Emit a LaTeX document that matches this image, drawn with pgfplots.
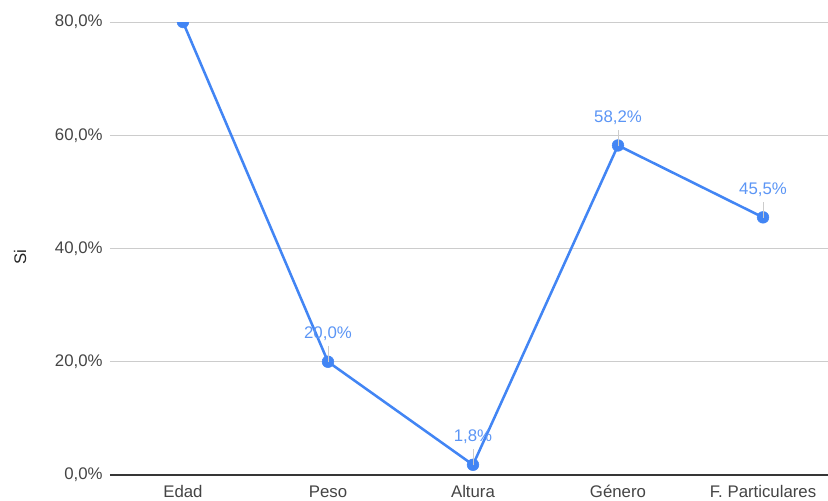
\documentclass[border=0pt]{standalone}
\usepackage{pgfplots}
\pgfplotsset{compat=1.18}
\usepackage{fontspec}
\setmainfont{Liberation Sans}
\definecolor{lineblue}{HTML}{4285F4}
\definecolor{labblue}{HTML}{5B95F5}
\definecolor{tickgray}{HTML}{444444}
\definecolor{gridgray}{HTML}{CCCCCC}
\begin{document}
\begin{tikzpicture}[x=0.75pt,y=0.75pt]
\path[use as bounding box] (-110,-25) rectangle (718,475);
\begin{axis}[
  at={(0,0)}, anchor=south west,
  scale only axis,
  width=538.5pt, height=339.75pt,
  xmin=-0.503, xmax=4.448,
  ymin=0, ymax=80,
  axis line style={draw=none},
  xtick={0,1,2,3,4},
  xticklabels={Edad,Peso,Altura,Género,F. Particulares},
  ytick={0,20,40,60,80},
  yticklabels={{0,0\%},{20,0\%},{40,0\%},{60,0\%},{80,0\%}},
  major tick length=0,
  ymajorgrids,
  grid style={gridgray, line width=0.75pt},
  tick label style={font=\fontsize{12.6pt}{14pt}\selectfont, text=tickgray},
  yticklabel style={xshift=-2pt},
  xticklabel style={yshift=-4.5pt, text height=9pt, text depth=2.5pt},
  clip marker paths=true,
  nodes near coords,
  point meta=explicit symbolic,
  every node near coord/.append style={font=\fontsize{12.6pt}{14pt}\selectfont, text=labblue, anchor=south, yshift=-4pt},
]
\draw[tickgray!80!black, line width=1pt] (axis cs:-0.503,0) -- (axis cs:4.448,0);
\addplot[lineblue, line width=1.9pt, mark=*, mark size=4.4pt, mark options={fill=lineblue, draw=lineblue, line width=0.4pt}]
  coordinates {
    (0,80.0) []
    (1,20.0) [{\shortstack{20,0\%\\[1pt]\textcolor{gridgray}{\rule{0.5pt}{12pt}}}}]
    (2,1.8)  [{\shortstack{1,8\%\\[1pt]\textcolor{gridgray}{\rule{0.5pt}{12pt}}}}]
    (3,58.2) [{\shortstack{58,2\%\\[1pt]\textcolor{gridgray}{\rule{0.5pt}{12pt}}}}]
    (4,45.5) [{\shortstack{45,5\%\\[1pt]\textcolor{gridgray}{\rule{0.5pt}{12pt}}}}]
  };
\end{axis}
\node[rotate=90, font=\fontsize{12.6pt}{14pt}\selectfont, text=black!85, anchor=center] at (-90,218) {Si};
\end{tikzpicture}
\end{document}
